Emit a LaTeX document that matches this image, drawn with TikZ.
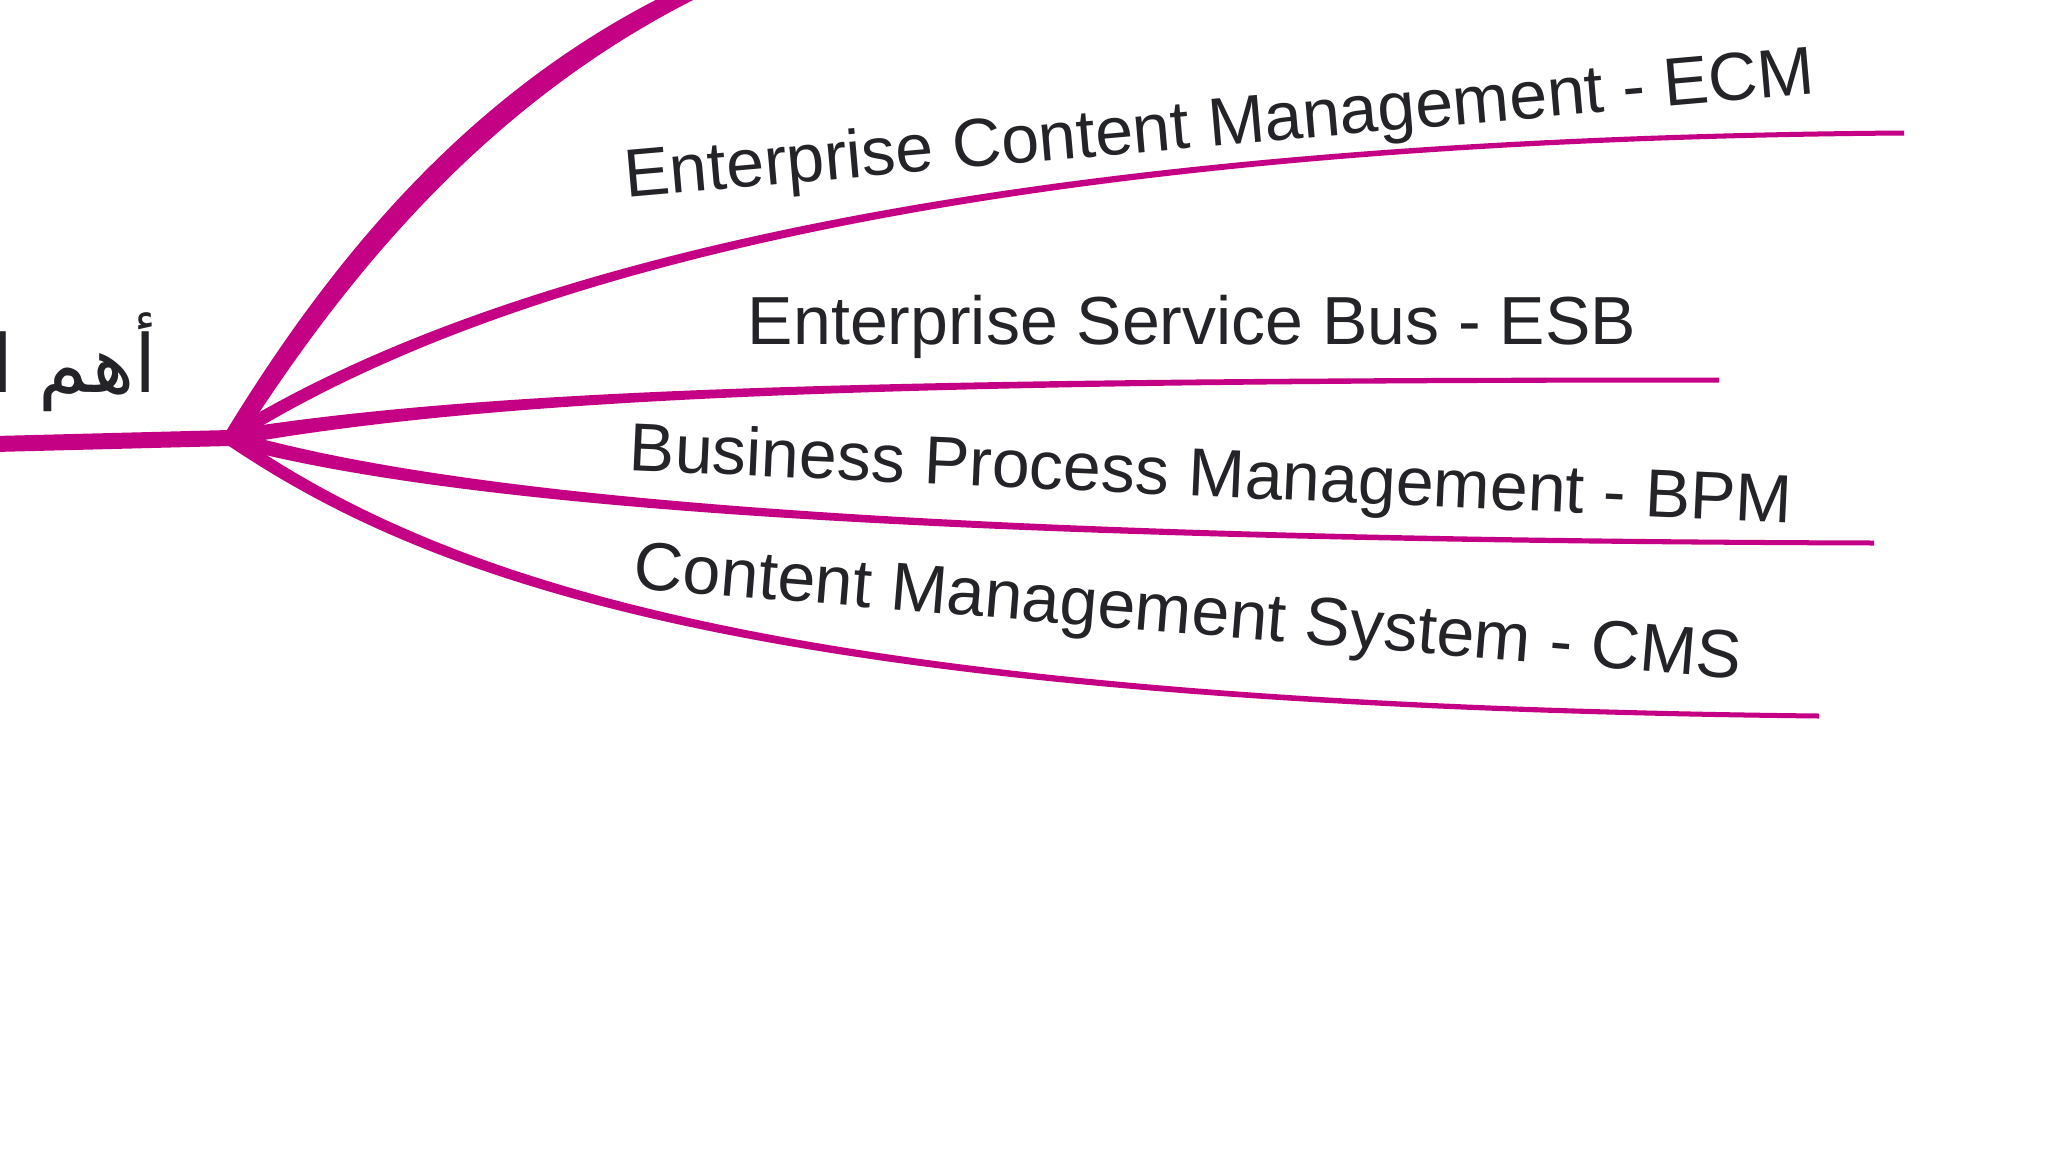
\documentclass[tikz,border=0pt]{standalone}
\usepackage{fontspec}
\setmainfont{Liberation Sans}
\newfontfamily\arabicfont[Script=Arabic]{DejaVu Sans}
\TeXXeTstate=1
\definecolor{mag}{RGB}{196,0,132}
\definecolor{txt}{RGB}{35,35,40}
\newcommand\mybranch[8]{%
  \fill[mag] (#1,#2-8) .. controls (#3,#4-5) and (#5,#6-2.5) .. (#7,#8-2.5)
    -- (#7,#8+2.5) .. controls (#5,#6+2.5) and (#3,#4+5) .. (#1,#2+8) -- cycle;}
\tikzset{lbl/.style={text=txt,font=\fontsize{34}{40}\selectfont,inner sep=0}}
\begin{document}
\begin{tikzpicture}[x=0.5pt,y=-0.5pt]
\useasboundingbox (0,0) rectangle (2048,1152);
\clip (0,0) rectangle (2048,1152);
\fill[white] (0,0) rectangle (2048,1152);
\coordinate (hub) at (229,438);
\fill[mag] (-5,436) -- (229,430) -- (229,446) -- (-5,452) -- cycle;
\fill[mag] (222,438) .. controls (330,260) and (480,70) .. (720,-30)
  -- (735,-20) .. controls (500,85) and (350,270) .. (240,442) -- cycle;
\mybranch{229}{438}{450}{300}{900}{140}{1904}{133}
\mybranch{229}{438}{500}{392}{900}{380}{1719}{380}
\mybranch{229}{438}{450}{500}{900}{540}{1874}{543}
\mybranch{229}{438}{450}{590}{800}{705}{1819}{716}
\node[lbl,rotate=5] (ecm) at (1220,128) {Enterprise Content Management - ECM};
\node[lbl] (esb) at (1192,327) {Enterprise Service Bus - ESB};
\node[lbl,rotate=-2.6] (bpm) at (1211,479) {Business Process Management - BPM};
\node[lbl,rotate=-4.7] (cms) at (1188,617) {Content Management System - CMS};
\node[text=txt,font=\arabicfont\fontsize{40}{48}\selectfont,anchor=base east,inner sep=0] (ar) at (157,392) {\beginR أهم المـ\endR};
\end{tikzpicture}
\end{document}
